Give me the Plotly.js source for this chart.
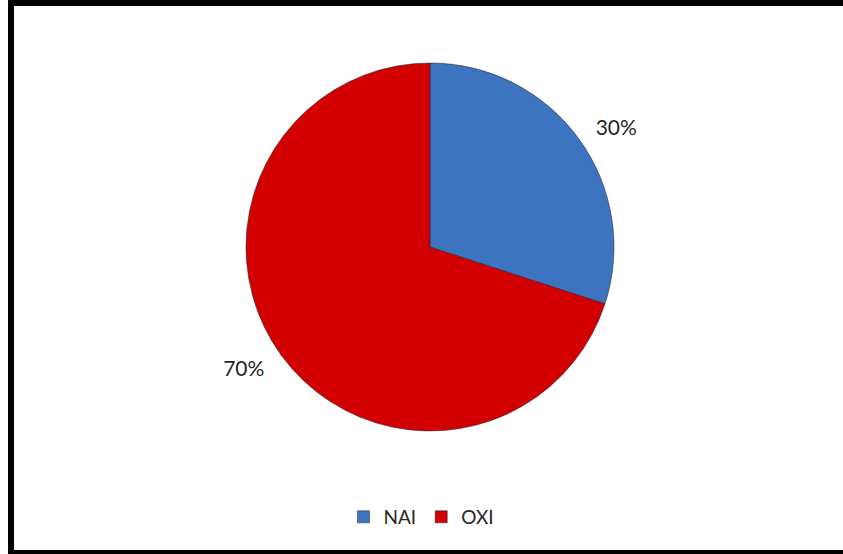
<!DOCTYPE html>
<html>
<head>
<meta charset="utf-8">
<script src="https://cdn.plot.ly/plotly-3.0.1.min.js"></script>
<style>html,body{margin:0;padding:0;background:#fff;}#chart{width:843px;height:554px;}</style>
</head>
<body>
<div id="chart"></div>
<script>
var labels = ["NAI", "OXI"];
var values = [30, 70];
var colors = ["#3d74c0", "#d20000"];

var W = 843, H = 554;
var cx = 430, cy = 247, r = 184, rText = 197;

function dom(rad) {
  return {
    x: [(cx - rad) / W, (cx + rad) / W],
    y: [(H - cy - rad) / H, (H - cy + rad) / H]
  };
}

var fontFam = "Lato, 'Open Sans', sans-serif";

// transparent companion pie carrying the outside percentage labels
var labelTrace = {
  type: "pie",
  labels: labels,
  values: values,
  sort: false,
  direction: "clockwise",
  rotation: 0,
  marker: { colors: ["rgba(0,0,0,0)", "rgba(0,0,0,0)"], line: { width: 0 } },
  texttemplate: "%{percent:.0%}",
  textposition: "outside",
  outsidetextfont: { family: fontFam, size: 21, color: "#262626" },
  showlegend: false,
  hoverinfo: "skip",
  domain: dom(rText),
  automargin: false
};

var mainTrace = {
  type: "pie",
  labels: labels,
  values: values,
  sort: false,
  direction: "clockwise",
  rotation: 0,
  marker: { colors: colors, line: { color: "rgba(40,40,60,0.55)", width: 1 } },
  textinfo: "none",
  hoverinfo: "label+percent",
  domain: dom(r),
  automargin: false
};

var layout = {
  width: W, height: H,
  margin: { l: 0, r: 0, t: 0, b: 0 },
  paper_bgcolor: "#ffffff",
  showlegend: true,
  legend: {
    orientation: "h",
    x: 0.5, xanchor: "center",
    y: (H - 517) / H, yanchor: "middle",
    font: { family: fontFam, size: 19, color: "#262626" },
    itemwidth: 30,
    tracegroupgap: 0
  },
  shapes: [
    { type: "line", xref: "paper", yref: "paper", x0: 11 / W, x1: 11 / W, y0: 0, y1: 1, line: { color: "#000", width: 6 } },
    { type: "line", xref: "paper", yref: "paper", x0: 8 / W, x1: 1, y0: 1 - 3 / H, y1: 1 - 3 / H, line: { color: "#000", width: 6 } },
    { type: "line", xref: "paper", yref: "paper", x0: 8 / W, x1: 1, y0: 2 / H, y1: 2 / H, line: { color: "#000", width: 4 } }
  ]
};

Plotly.newPlot("chart", [labelTrace, mainTrace], layout, { displayModeBar: false, staticPlot: true });
</script>
</body>
</html>
